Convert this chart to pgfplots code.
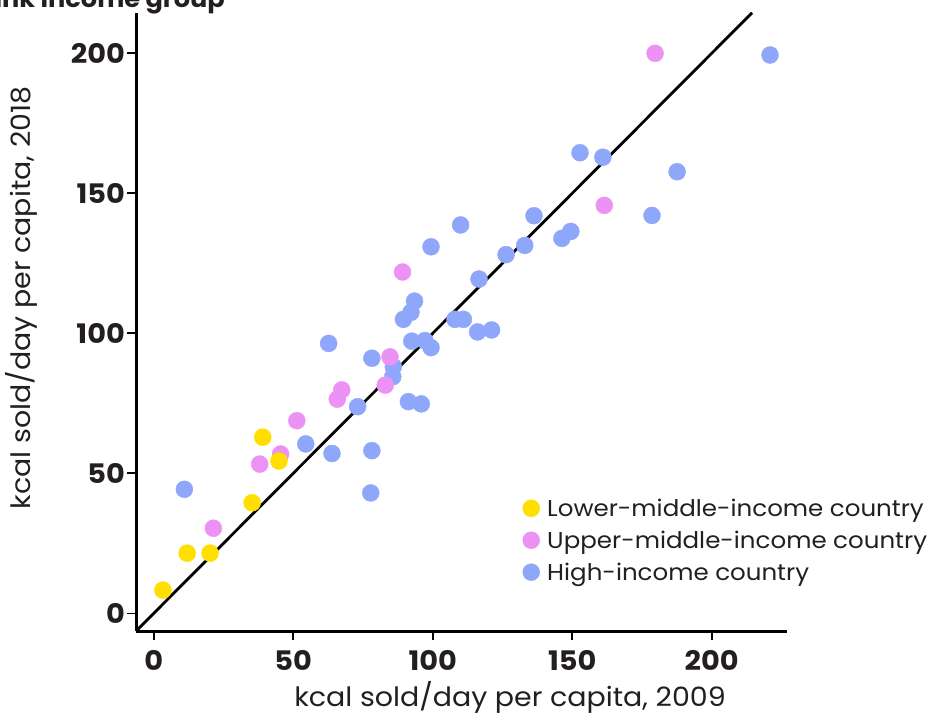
\documentclass[border=0pt]{standalone}
\usepackage{fontspec}
\setmainfont{Poppins}[FakeStretch=1.07]
\usepackage{pgfplots}
\pgfplotsset{compat=1.18}
\definecolor{lmi}{RGB}{255,222,0}
\definecolor{umi}{RGB}{236,146,245}
\definecolor{hi}{RGB}{143,167,250}
\definecolor{txt}{RGB}{35,31,32}
\begin{document}
\begin{tikzpicture}
\useasboundingbox (0,0) rectangle (928bp,715bp);
\begin{axis}[
  at={(136bp,84bp)}, anchor=south west,
  scale only axis, width=651.3bp, height=618.3bp,
  xmin=-6.34, xmax=227.1, ymin=-6.3, ymax=214.5,
  axis lines*=left,
  axis line style={line width=3bp, black},
  tick align=outside, major tick length=9bp,
  tick style={line width=1.7bp, black},
  xtick={0,50,...,200}, ytick={0,50,...,200},
  minor tick num=0,
  /pgf/number format/assume math mode=true,
  ticklabel style={font=\fontsize{27}{31}\selectfont\bfseries, text=txt},
  yticklabel style={inner sep=2bp},
  xticklabel style={inner sep=10bp},
  clip mode=individual,
  reverse legend,
  legend cell align=left,
  legend image code/.code={\draw[#1] plot coordinates {(0bp,0bp)};},
  legend style={at={(axis cs:132.2,41.5)}, anchor=north west, draw=none, fill=none,
    font=\fontsize{23}{27}\selectfont, text=txt, inner sep=0pt, row sep=10bp,
    nodes={inner sep=1.5bp},
    /tikz/every odd column/.append style={column sep=6bp}},
]
\addplot[draw=black, line width=2.8bp, forget plot] coordinates {(-6.34,-6.34) (214.5,214.5)};
\addplot[only marks, mark=*, mark size=8.5bp, hi, mark options={fill=hi, draw=hi}] coordinates {
(11,44.3) (54.5,60.5) (63.9,57.1) (62.7,96.4) (73.1,73.8) (77.8,43) (78.2,58.1) (78.2,91.1)
(85.9,88.1) (85.7,84.5) (91.3,75.6) (95.9,74.8) (89.5,105) (92.2,107.5) (93.5,111.5)
(92.5,97.2) (97.2,97.4) (99.4,94.9) (99.4,130.9) (108,105) (111,105) (110,138.7)
(116.1,100.5) (121.1,101.2) (116.6,119.4) (126.3,128.1) (133,131.4) (136.3,142)
(146.3,133.9) (149.5,136.4) (152.8,164.5) (161,162.9) (178.6,142.1) (187.6,157.7) (220.9,199.4)
};
\addlegendentry{High-income country}
\addplot[only marks, mark=*, mark size=8.5bp, umi, mark options={fill=umi, draw=umi}] coordinates {
(21.4,30.4) (38,53.3) (45.5,56.9) (51.3,68.8) (65.8,76.5) (67.4,79.8) (83,81.5)
(84.7,91.6) (89.2,121.9) (161.5,145.7) (179.7,200)
};
\addlegendentry{Upper-middle-income country}
\addplot[only marks, mark=*, mark size=8.5bp, lmi, mark options={fill=lmi, draw=lmi}] coordinates {
(3.3,8.3) (12,21.5) (20.2,21.5) (35.3,39.5) (39.1,62.9) (44.9,54.4)
};
\addlegendentry{Lower-middle-income country}
\end{axis}
\node[rotate=90, anchor=base, text=txt, font=\fontsize{26.7}{30}\selectfont] at (30bp,417bp) {kcal sold/day per capita, 2018};
\node[anchor=base, text=txt, font=\fontsize{26.7}{30}\selectfont] at (510bp,9bp) {kcal sold/day per capita, 2009};
\node[anchor=base east, text=txt, font=\fontsize{24}{28}\selectfont\bfseries, inner sep=0pt] at (225bp,707.7bp) {World Bank income group};
\end{tikzpicture}
\end{document}
